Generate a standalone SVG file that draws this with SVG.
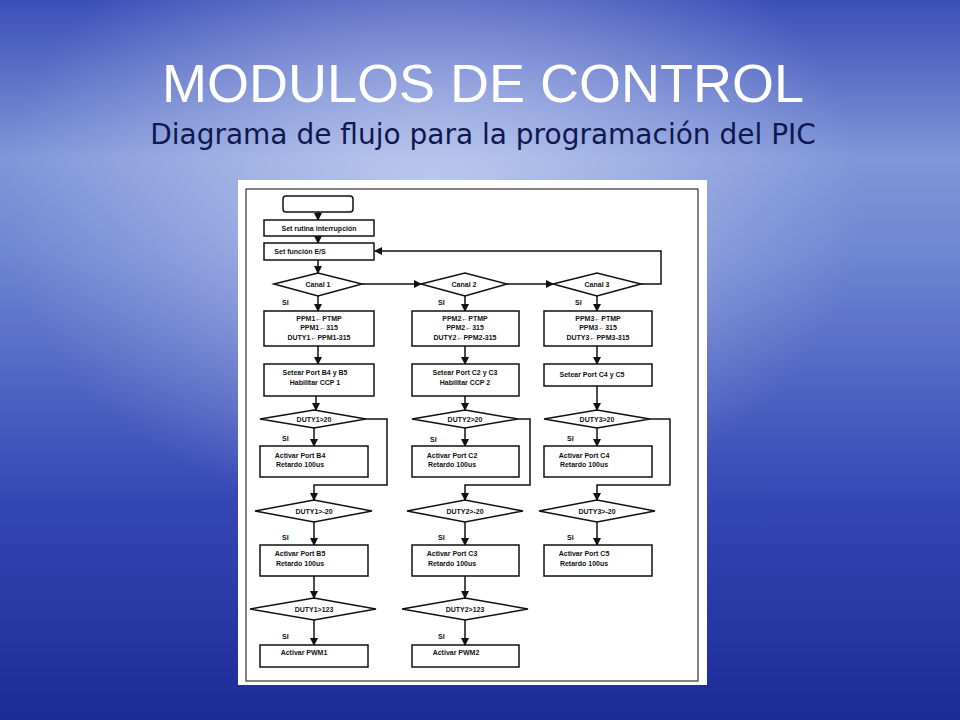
<svg xmlns="http://www.w3.org/2000/svg" width="960" height="720" viewBox="0 0 960 720">
<defs>
<linearGradient id="bg" x1="0" y1="0" x2="0" y2="1">
<stop offset="0" stop-color="#3c4fb8"/><stop offset="0.22" stop-color="#8096d8"/><stop offset="0.35" stop-color="#6f86d2"/><stop offset="0.7" stop-color="#3446b4"/><stop offset="1" stop-color="#1c2a96"/>
</linearGradient>
<radialGradient id="glow" cx="0.45" cy="0.28" r="0.45"><stop offset="0" stop-color="#e8eeff" stop-opacity="0.6"/><stop offset="1" stop-color="#e8eeff" stop-opacity="0"/></radialGradient>
<marker id="ar" markerWidth="8" markerHeight="8" refX="7" refY="4" orient="auto" markerUnits="userSpaceOnUse"><path d="M0,0 L8,4 L0,8 z" fill="#111"/></marker>
<style>
.n{fill:#fff;stroke:#111;stroke-width:1.5}
.t{font-family:"Liberation Sans",Arial,sans-serif;font-size:7px;font-weight:bold;fill:#111;text-anchor:middle}
.s{font-family:"Liberation Sans",Arial,sans-serif;font-size:7px;font-weight:bold;fill:#111}
.c{fill:none;stroke:#111;stroke-width:1.5;marker-end:url(#ar)}
</style>
</defs>
<rect width="960" height="720" fill="url(#bg)"/>
<rect width="960" height="720" fill="url(#glow)"/>
<text x="483" y="102" font-family="Liberation Sans,Arial,sans-serif" font-size="54" fill="#fff" text-anchor="middle">MODULOS DE CONTROL</text>
<text x="483" y="144" font-family="DejaVu Sans,Verdana,sans-serif" font-size="28" fill="#101850" text-anchor="middle">Diagrama de flujo para la programación del PIC</text>
<rect x="238" y="180" width="469" height="505" fill="#fff"/>
<rect x="246" y="189" width="452" height="492" fill="none" stroke="#333" stroke-width="1.2"/>
<g id="connectors">
<path class="c" d="M318,212 V220"/><path class="c" d="M318,236 V243"/><path class="c" d="M318,260 V273"/>
<path class="c" d="M362,284 H421"/><path class="c" d="M507,284 H553"/>
<path class="c" d="M641,284 H661 V251 H375"/>
<path class="c" d="M318,296 V311"/><path class="c" d="M465,296 V311"/><path class="c" d="M597,296 V311"/>
<path class="c" d="M318,346 V364"/><path class="c" d="M465,346 V364"/><path class="c" d="M597,346 V364"/>
<path class="c" d="M316,396 V410"/><path class="c" d="M465,396 V410"/><path class="c" d="M597,386 V410"/>
<path class="c" d="M314,428 V446"/><path class="c" d="M465,428 V446"/><path class="c" d="M597,428 V446"/>
<path class="c" d="M366,419 H387 V485 H314 V500"/><path class="c" d="M518,419 H530 V485 H465 V500"/><path class="c" d="M650,419 H670 V485 H597 V500"/>
<path class="c" d="M314,522 V545"/><path class="c" d="M465,522 V545"/><path class="c" d="M597,522 V545"/>
<path class="c" d="M314,576 V598"/><path class="c" d="M465,576 V598"/>
<path class="c" d="M314,620 V645"/><path class="c" d="M465,620 V645"/>
</g>
<g id="start"><rect class="n" x="283" y="196" width="70" height="16" rx="3"/></g>
<g id="n1"><rect class="n" x="264" y="220" width="110" height="16"/><text class="t" x="319" y="231">Set rutina interrupción</text></g>
<g id="n2"><rect class="n" x="264" y="243" width="110" height="17"/><text class="t" x="300" y="254">Set función E/S</text></g>
<g id="d1"><polygon class="n" points="274,284 318,273 362,284 318,296"/><text class="t" x="318" y="287">Canal 1</text></g>
<g id="d2"><polygon class="n" points="421,284 465,273 507,284 465,296"/><text class="t" x="464" y="287">Canal 2</text></g>
<g id="d3"><polygon class="n" points="553,284 597,273 641,284 597,296"/><text class="t" x="597" y="287">Canal 3</text></g>
<g id="si"><text class="s" x="282" y="305">SI</text><text class="s" x="438" y="305">SI</text><text class="s" x="575" y="305">SI</text>
<text class="s" x="282" y="441">SI</text><text class="s" x="430" y="442">SI</text><text class="s" x="567" y="441">SI</text>
<text class="s" x="282" y="540">SI</text><text class="s" x="438" y="540">SI</text><text class="s" x="567" y="540">SI</text>
<text class="s" x="282" y="639">SI</text><text class="s" x="438" y="639">SI</text></g>
<g id="b11"><rect class="n" x="264" y="311" width="110" height="35"/><text class="t" x="319" y="321">PPM1←PTMP</text><text class="t" x="319" y="330">PPM1←315</text><text class="t" x="319" y="340">DUTY1←PPM1-315</text></g>
<g id="b21"><rect class="n" x="412" y="311" width="107" height="35"/><text class="t" x="465" y="321">PPM2←PTMP</text><text class="t" x="465" y="330">PPM2←315</text><text class="t" x="465" y="340">DUTY2←PPM2-315</text></g>
<g id="b31"><rect class="n" x="544" y="311" width="108" height="35"/><text class="t" x="598" y="321">PPM3←PTMP</text><text class="t" x="598" y="330">PPM3←315</text><text class="t" x="598" y="340">DUTY3←PPM3-315</text></g>
<g id="b12"><rect class="n" x="264" y="364" width="110" height="32"/><text class="t" x="315" y="375">Setear Port B4 y B5</text><text class="t" x="315" y="385">Habilitar CCP 1</text></g>
<g id="b22"><rect class="n" x="412" y="364" width="107" height="32"/><text class="t" x="465" y="375">Setear Port C2 y C3</text><text class="t" x="465" y="385">Habilitar CCP 2</text></g>
<g id="b32"><rect class="n" x="544" y="364" width="108" height="22"/><text class="t" x="592" y="377">Setear Port C4 y C5</text></g>
<g id="d13"><polygon class="n" points="260,419 314,410 366,419 314,428"/><text class="t" x="314" y="422">DUTY1&gt;20</text></g>
<g id="d23"><polygon class="n" points="412,419 465,410 518,419 465,428"/><text class="t" x="465" y="422">DUTY2&gt;20</text></g>
<g id="d33"><polygon class="n" points="544,419 597,410 650,419 597,428"/><text class="t" x="597" y="422">DUTY3&gt;20</text></g>
<g id="b14"><rect class="n" x="260" y="446" width="108" height="31"/><text class="t" x="300" y="458">Activar Port B4</text><text class="t" x="300" y="467">Retardo 100us</text></g>
<g id="b24"><rect class="n" x="412" y="446" width="107" height="31"/><text class="t" x="452" y="458">Activar Port C2</text><text class="t" x="452" y="467">Retardo 100us</text></g>
<g id="b34"><rect class="n" x="544" y="446" width="108" height="31"/><text class="t" x="584" y="458">Activar Port C4</text><text class="t" x="584" y="467">Retardo 100us</text></g>
<g id="d15"><polygon class="n" points="255,511 314,500 372,511 314,522"/><text class="t" x="314" y="514">DUTY1&gt;-20</text></g>
<g id="d25"><polygon class="n" points="407,511 465,500 523,511 465,522"/><text class="t" x="465" y="514">DUTY2&gt;-20</text></g>
<g id="d35"><polygon class="n" points="539,511 597,500 655,511 597,522"/><text class="t" x="597" y="514">DUTY3&gt;-20</text></g>
<g id="b16"><rect class="n" x="260" y="545" width="108" height="31"/><text class="t" x="300" y="556">Activar Port B5</text><text class="t" x="300" y="566">Retardo 100us</text></g>
<g id="b26"><rect class="n" x="412" y="545" width="107" height="31"/><text class="t" x="452" y="556">Activar Port C3</text><text class="t" x="452" y="566">Retardo 100us</text></g>
<g id="b36"><rect class="n" x="544" y="545" width="108" height="31"/><text class="t" x="584" y="556">Activar Port C5</text><text class="t" x="584" y="566">Retardo 100us</text></g>
<g id="d17"><polygon class="n" points="250,609 314,598 376,609 314,620"/><text class="t" x="314" y="612">DUTY1&gt;123</text></g>
<g id="d27"><polygon class="n" points="402,609 465,598 528,609 465,620"/><text class="t" x="465" y="612">DUTY2&gt;123</text></g>
<g id="b18"><rect class="n" x="260" y="645" width="108" height="22"/><text class="t" x="304" y="655">Activar PWM1</text></g>
<g id="b28"><rect class="n" x="412" y="645" width="107" height="22"/><text class="t" x="456" y="655">Activar PWM2</text></g>
</svg>
